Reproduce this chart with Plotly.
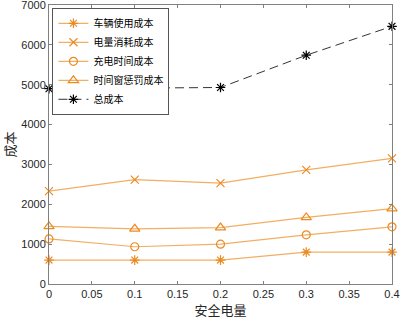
import plotly.graph_objects as go

x_vals = [0, 0.1, 0.2, 0.3, 0.4]
vehicle_cost = [600, 600, 600, 800, 800]
energy_cost = [2330, 2620, 2530, 2865, 3150]
charge_time_cost = [1130, 935, 1000, 1235, 1435]
window_penalty_cost = [1445, 1385, 1415, 1670, 1890]
total_cost = [4900, 4920, 4930, 5740, 6465]

names = ["车辆使用成本", "电量消耗成本", "充电时间成本", "时间窗惩罚成本", "总成本"]
x_ticks = [0, 0.05, 0.1, 0.15, 0.2, 0.25, 0.3, 0.35, 0.4]
x_ticktext = ["0", "0.05", "0.1", "0.15", "0.2", "0.25", "0.3", "0.35", "0.4"]
y_ticks = [0, 1000, 2000, 3000, 4000, 5000, 6000, 7000]

line_c = "#F2AE62"
mark_c = "#EC8A22"

fig = go.Figure()
series = [
    (vehicle_cost, "asterisk-open", 8),
    (energy_cost, "x-thin-open", 8),
    (charge_time_cost, "circle-open", 8),
    (window_penalty_cost, "triangle-up-open", 9),
]
for (vals, sym, sz), nm in zip(series, names[:4]):
    fig.add_trace(go.Scatter(
        x=x_vals, y=vals, name=nm, mode="lines+markers",
        line=dict(color=line_c, width=1.2),
        marker=dict(symbol=sym, size=sz, color=mark_c, line=dict(color=mark_c, width=1.2)),
        cliponaxis=False,
    ))
fig.add_trace(go.Scatter(
    x=x_vals, y=total_cost, name=names[4], mode="lines+markers",
    line=dict(color="#333333", width=1, dash="9px,5px"),
    marker=dict(symbol="asterisk-open", size=8, color="#000000", line=dict(color="#000000", width=1.2)),
    cliponaxis=False,
))

axis_common = dict(
    showline=True, linecolor="#808080", linewidth=1, mirror="ticks",
    ticks="inside", ticklen=3, tickcolor="#808080",
    showgrid=False, zeroline=False, automargin=False,
    ticklabeloverflow="allow",
    tickfont=dict(family="Liberation Sans, Arial", size=11, color="#262626"),
)

fig.update_layout(
    width=403, height=322,
    margin=dict(l=49, r=11, t=5, b=38),
    paper_bgcolor="white", plot_bgcolor="white",
    xaxis=dict(range=[0, 0.4], tickvals=x_ticks, ticktext=x_ticktext,
               title=dict(text="安全电量", font=dict(family="Noto Sans CJK SC", size=13, color="#262626"), standoff=0),
               **axis_common),
    yaxis=dict(range=[0, 7000], tickvals=y_ticks,
               title=dict(text="成本", font=dict(family="Noto Sans CJK SC", size=13, color="#262626"), standoff=8),
               **axis_common),
    legend=dict(x=0.01, y=0.99, xanchor="left", yanchor="top",
                bgcolor="white", bordercolor="#555555", borderwidth=1,
                font=dict(family="Noto Sans CJK SC", size=10, color="#000000"),
                itemwidth=30, tracegroupgap=0),
    showlegend=True,
)

fig.write_html("out.html", config={"displayModeBar": False},
               post_script="document.body.style.margin='0';document.body.style.padding='0';")
